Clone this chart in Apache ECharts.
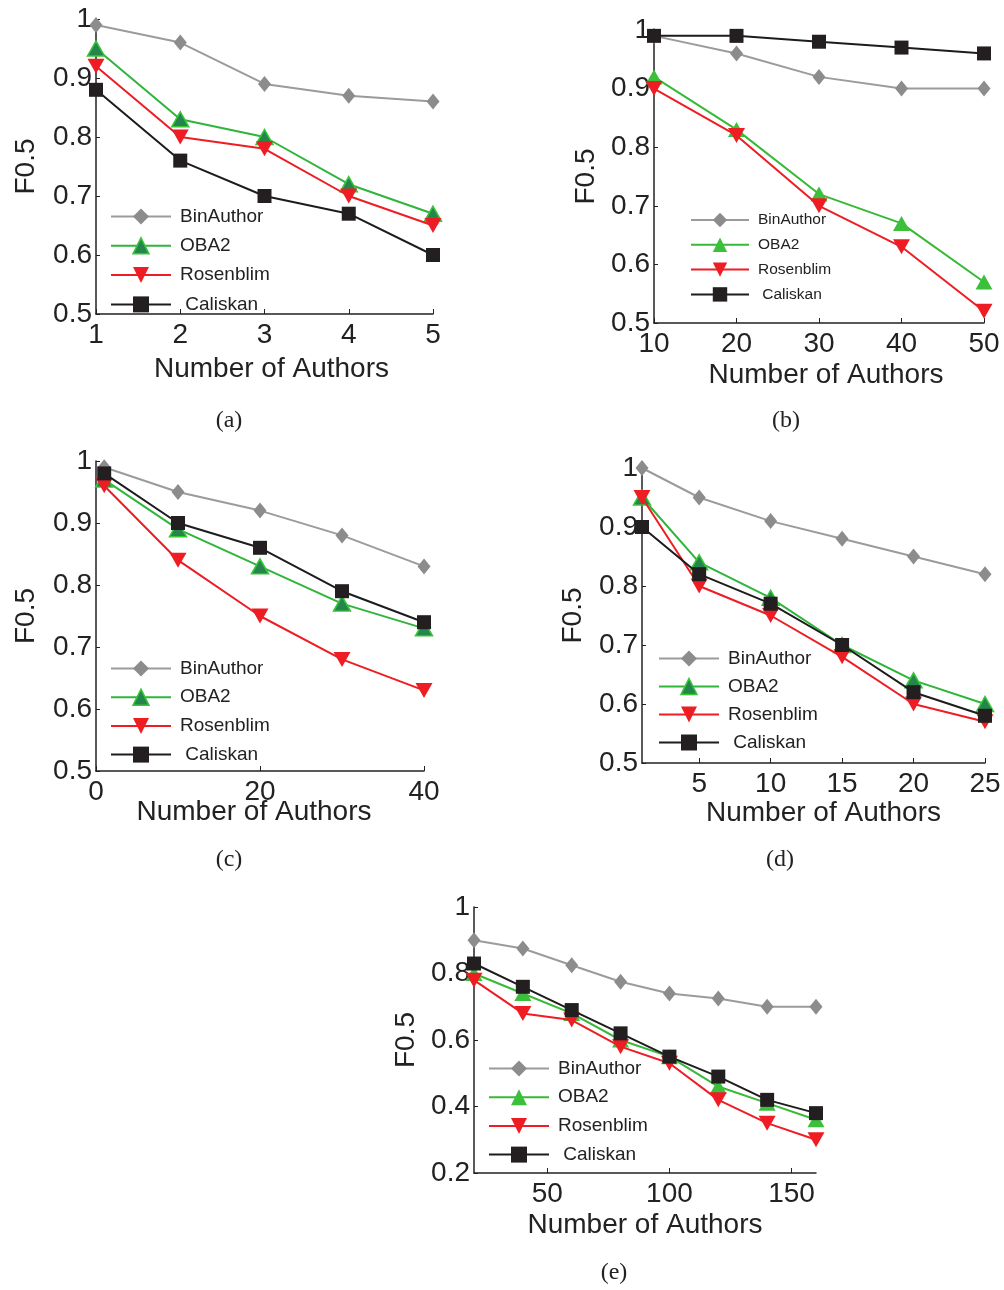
<!DOCTYPE html>
<html>
<head>
<meta charset="utf-8">
<script src="https://cdn.jsdelivr.net/npm/echarts@6/dist/echarts.min.js"></script>
<style>
html,body{margin:0;padding:0;background:#fff;}
#c{width:1004px;height:1290px;}
</style>
</head>
<body>
<div id="c"></div>
<script>
// ---------------- data ----------------
const seriesNames = ['BinAuthor', 'OBA2', 'Rosenblim', 'Caliskan'];

// (a)
const xA = [1, 2, 3, 4, 5];
const binA = [0.99, 0.96, 0.89, 0.87, 0.86];
const obaA = [0.95, 0.83, 0.80, 0.72, 0.67];
const rosA = [0.92, 0.80, 0.78, 0.70, 0.65];
const calA = [0.88, 0.76, 0.70, 0.67, 0.60];

// (b)
const xB = [10, 20, 30, 40, 50];
const binB = [0.99, 0.96, 0.92, 0.90, 0.90];
const obaB = [0.92, 0.83, 0.72, 0.67, 0.57];
const rosB = [0.90, 0.82, 0.70, 0.63, 0.52];
const calB = [0.99, 0.99, 0.98, 0.97, 0.96];

// (c)
const xC = [1, 10, 20, 30, 40];
const binC = [0.99, 0.95, 0.92, 0.88, 0.83];
const obaC = [0.97, 0.89, 0.83, 0.77, 0.73];
const rosC = [0.96, 0.84, 0.75, 0.68, 0.63];
const calC = [0.98, 0.90, 0.86, 0.79, 0.74];

// (d)
const xD = [1, 5, 10, 15, 20, 25];
const binD = [1.00, 0.95, 0.91, 0.88, 0.85, 0.82];
const obaD = [0.95, 0.84, 0.78, 0.70, 0.64, 0.60];
const rosD = [0.95, 0.80, 0.75, 0.68, 0.60, 0.57];
const calD = [0.90, 0.82, 0.77, 0.70, 0.62, 0.58];

// (e)
const xE = [20, 40, 60, 80, 100, 120, 140, 160];
const binE = [0.90, 0.875, 0.825, 0.775, 0.74, 0.725, 0.70, 0.70];
const obaE = [0.80, 0.74, 0.68, 0.60, 0.55, 0.46, 0.41, 0.36];
const rosE = [0.78, 0.68, 0.66, 0.58, 0.53, 0.42, 0.35, 0.30];
const calE = [0.83, 0.76, 0.69, 0.62, 0.55, 0.49, 0.42, 0.38];

// tick labels
const xTicksA = [1, 2, 3, 4, 5];
const xTicksB = [10, 20, 30, 40, 50];
const xTicksC = [0, 20, 40];
const xTicksD = [5, 10, 15, 20, 25];
const xTicksE = [50, 100, 150];
const yTicksTop = [0.5, 0.6, 0.7, 0.8, 0.9, 1];
const yTicksE = [0.2, 0.4, 0.6, 0.8, 1];

const captions = ['(a)', '(b)', '(c)', '(d)', '(e)'];
const xTitle = 'Number of Authors';
const yTitle = 'F0.5';

// ---------------- layout/styling ----------------
const FONT = 'Liberation Sans, Arial, Helvetica, sans-serif';
const panels = [
  { x: xA, vals: [binA, obaA, rosA, calA], xt: xTicksA, yt: yTicksTop,
    grid: { left: 96, top: 19, width: 337, height: 295 }, xmin: 1, xmax: 5, ymin: 0.5, ymax: 1,
    xGap: 41, xShift: 7, yGap: 56, oba: 'dark', legend: { left: 110, top: 207, gap: 10.3, h: 20, w: 60, fs: 19 },
    cap: [229, 421] },
  { x: xB, vals: [binB, obaB, rosB, calB], xt: xTicksB, yt: yTicksTop,
    grid: { left: 654, top: 30, width: 330, height: 293 }, xmin: 10, xmax: 50, ymin: 0.5, ymax: 1,
    xGap: 38, xShift: 7, yGap: 54, oba: 'bright', legend: { left: 690, top: 212, gap: 8.8, h: 18, w: 58, fs: 15.5 },
    cap: [786, 421] },
  { x: xC, vals: [binC, obaC, rosC, calC], xt: xTicksC, yt: yTicksTop,
    grid: { left: 96, top: 461, width: 328, height: 310 }, xmin: 0, xmax: 40, ymin: 0.5, ymax: 1,
    xGap: 27, xShift: -6, yGap: 56, oba: 'dark', legend: { left: 110, top: 659, gap: 9.7, h: 20, w: 60, fs: 19 },
    cap: [229, 860] },
  { x: xD, vals: [binD, obaD, rosD, calD], xt: xTicksD, yt: yTicksTop,
    grid: { left: 642, top: 468, width: 343, height: 295 }, xmin: 1, xmax: 25, ymin: 0.5, ymax: 1,
    xGap: 36, xShift: 10, yGap: 55, oba: 'dark', legend: { left: 658, top: 649, gap: 9, h: 20, w: 60, fs: 19 },
    cap: [780, 860] },
  { x: xE, vals: [binE, obaE, rosE, calE], xt: xTicksE, yt: yTicksE,
    grid: { left: 474, top: 907, width: 342, height: 266 }, xmin: 20, xmax: 160, ymin: 0.2, ymax: 1,
    xGap: 38, xShift: 0, yGap: 54, oba: 'bright', legend: { left: 488, top: 1059, gap: 9.7, h: 20, w: 60, fs: 19 },
    cap: [614, 1273] }
];

function seriesStyle(k, obaMode) {
  if (k === 0) return { line: '#9b9b9b', fill: '#8c8c8c', symbol: 'diamond', size: [13, 16], rot: 0 };
  if (k === 1) return obaMode === 'dark'
    ? { line: '#2fb53a', fill: '#24864a', border: '#38c638', bw: 1.5, symbol: 'triangle', size: [17, 15], rot: 0 }
    : { line: '#36ba36', fill: '#3cc03c', symbol: 'triangle', size: [17, 15], rot: 0 };
  if (k === 2) return { line: '#ee1d24', fill: '#ee1d24', symbol: 'triangle', size: [17, 15], rot: 180 };
  return { line: '#1c1c1c', fill: '#231f20', symbol: 'rect', size: [14, 14], rot: 0 };
}

const option = {
  animation: false,
  backgroundColor: '#ffffff',
  grid: [], xAxis: [], yAxis: [], series: [], legend: [],
  graphic: []
};

panels.forEach((p, i) => {
  option.grid.push(Object.assign({ containLabel: false, show: false }, p.grid));
  const sh = p.xShift;
  option.xAxis.push({
    type: 'value', gridIndex: i, min: p.xmin, max: p.xmax,
    axisLine: { show: true, onZero: false, lineStyle: { color: '#222', width: 1.5 } },
    axisTick: { show: true, inside: true, length: 5, lineStyle: { color: '#222' }, customValues: p.xt },
    axisLabel: { fontSize: 28, color: '#222', fontFamily: FONT, margin: 7, customValues: p.xt },
    splitLine: { show: false },
    name: xTitle, nameLocation: 'middle', nameGap: p.xGap, nameMoveOverlap: false,
    nameTextStyle: { fontSize: 28, color: '#222', fontFamily: FONT,
      padding: sh >= 0 ? [0, 0, 0, 2 * sh] : [0, -2 * sh, 0, 0] }
  });
  option.yAxis.push({
    type: 'value', gridIndex: i, min: p.ymin, max: p.ymax,
    axisLine: { show: true, onZero: false, lineStyle: { color: '#222', width: 1.5 } },
    axisTick: { show: true, inside: true, length: 4, lineStyle: { color: '#222' }, customValues: p.yt },
    axisLabel: { fontSize: 28, color: '#222', fontFamily: FONT, margin: 4, customValues: p.yt },
    splitLine: { show: false },
    name: yTitle, nameLocation: 'middle', nameGap: p.yGap, nameMoveOverlap: false,
    nameTextStyle: { fontSize: 28, color: '#222', fontFamily: FONT }
  });
  const legendData = [];
  seriesNames.forEach((nm, k) => {
    const s = seriesStyle(k, p.oba);
    const data = p.x.map((xv, j) => [xv, p.vals[k][j]]);
    option.series.push({
      type: 'line', name: nm, xAxisIndex: i, yAxisIndex: i, data: data,
      symbol: s.symbol, symbolSize: s.size, symbolRotate: s.rot, showSymbol: true,
      lineStyle: { color: s.line, width: 2 },
      itemStyle: { color: s.fill, borderColor: s.border || s.fill, borderWidth: s.bw || 0, opacity: 1 },
      z: 2 + k
    });
    legendData.push({
      name: nm,
      itemStyle: { color: s.fill, borderColor: s.border || s.fill, borderWidth: s.bw || 0 },
      lineStyle: { color: s.line, width: 2 }
    });
  });
  option.legend.push({
    orient: 'vertical', left: p.legend.left, top: p.legend.top,
    itemWidth: p.legend.w, itemHeight: p.legend.h, itemGap: p.legend.gap,
    padding: 0, selectedMode: false,
    data: legendData,
    formatter: (nm) => (nm === 'Caliskan' ? ' Caliskan' : nm),
    textStyle: { fontSize: p.legend.fs, color: '#222', fontFamily: FONT, padding: [0, 0, 0, 4] }
  });
  option.graphic.push({
    type: 'text', x: p.cap[0], y: p.cap[1],
    style: { text: captions[i], font: '24px "Liberation Serif", "Times New Roman", serif',
      fill: '#222', align: 'center', verticalAlign: 'middle' }
  });
});

const chart = echarts.init(document.getElementById('c'), null, { renderer: 'canvas' });
chart.setOption(option);
</script>
</body>
</html>
